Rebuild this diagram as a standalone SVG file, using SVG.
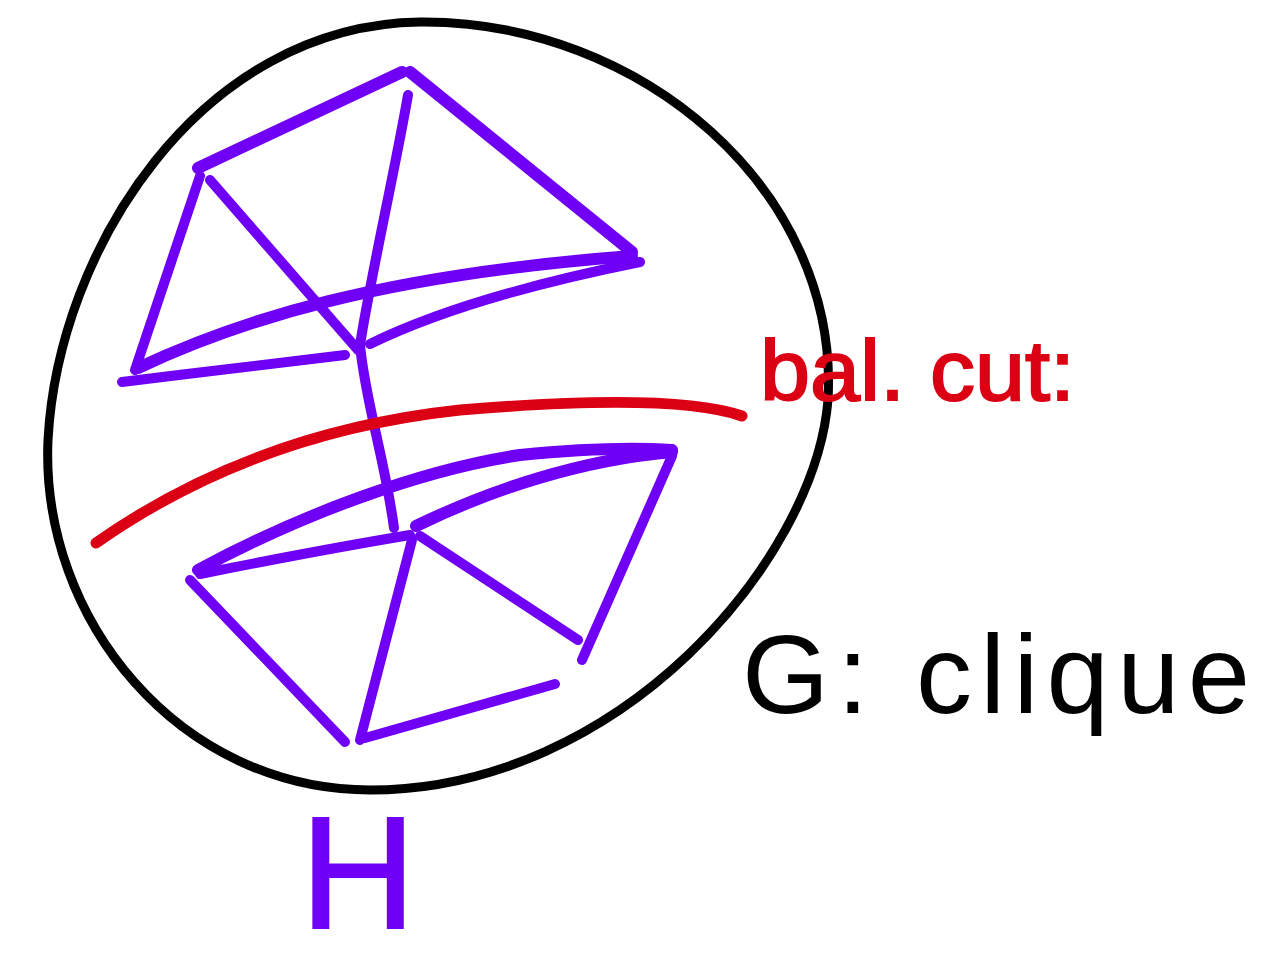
<svg xmlns="http://www.w3.org/2000/svg" width="1281" height="964" viewBox="0 0 1281 964">
<style>
.p{fill:none;stroke:#6f00f5;stroke-width:10;stroke-linecap:round;stroke-linejoin:round}
.pt{stroke-width:12}
.k{fill:none;stroke:#000;stroke-width:9;stroke-linecap:round}
.r{fill:none;stroke:#dc0014;stroke-width:11;stroke-linecap:round}
.lbl{font-family:"Liberation Sans","DejaVu Sans",sans-serif}
</style>
<rect width="1281" height="964" fill="#fff"/>
<g id="circle-G">
<path class="k" d="M370 790 C180 790 40 620 48 440 C58 250 200 25 420 22 C640 20 840 190 828 400 C815 560 620 790 370 790 Z"/>
</g>
<g id="cluster-top">
<path class="p pt" d="M198 168 L402 72"/>
<path class="p pt" d="M410 72 L632 252"/>
<path class="p" d="M200 176 L135 370"/>
<path class="p" d="M210 180 L358 350"/>
<path class="p pt" d="M138 368 C240 320 380 275 632 256"/>
<path class="p" d="M122 382 C200 372 290 362 345 355"/>
<path class="p" d="M370 344 C450 305 560 278 640 262"/>
</g>
<g id="connectors">
<path class="p" d="M408 95 C395 170 370 280 360 345 C365 400 385 460 394 528"/>
</g>
<g id="cluster-bottom">
<path class="p pt" d="M198 570 C300 515 420 470 520 455 C590 448 640 448 672 450"/>
<path class="p pt" d="M416 526 C490 490 580 460 672 452"/>
<path class="p" d="M200 574 C270 560 350 545 410 535"/>
<path class="p" d="M672 456 L582 660"/>
<path class="p" d="M420 536 L578 640"/>
<path class="p" d="M190 580 L345 742"/>
<path class="p" d="M412 540 L360 740"/>
<path class="p" d="M365 738 L555 684"/>
</g>
<g id="cut">
<path class="r" d="M96 543 C200 470 320 425 460 410 C580 400 690 398 742 416"/>
</g>
<g id="labels">
<text class="lbl" x="760" y="400" font-size="86" fill="#dc0014" stroke="#dc0014" stroke-width="2" textLength="315" lengthAdjust="spacingAndGlyphs">bal. cut:</text>
<text class="lbl" x="742" y="713" font-size="112" fill="#000" textLength="508" lengthAdjust="spacing">G: clique</text>
<text class="lbl" x="358" y="928" font-size="160" fill="#6f00f5" stroke="#6f00f5" stroke-width="2" text-anchor="middle">H</text>
</g>
</svg>
